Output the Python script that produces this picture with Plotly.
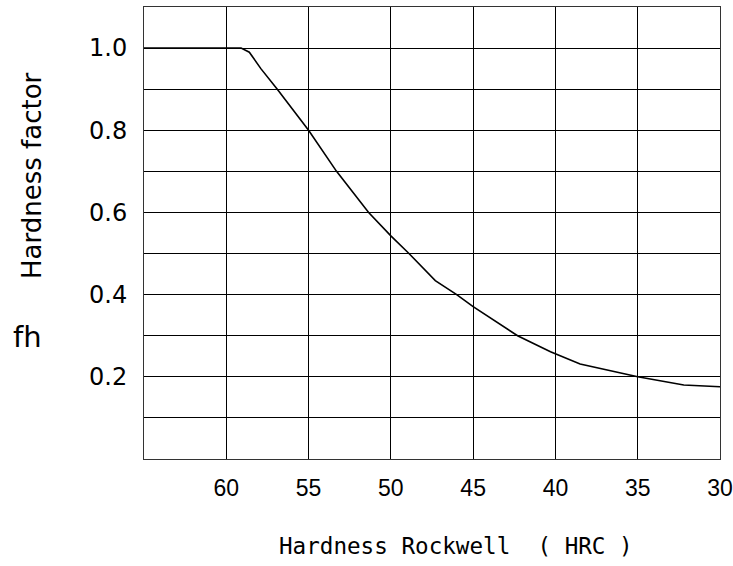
import plotly.graph_objects as go

# Curve (HRC vs hardness factor fh)
hrc = [65.0, 59.1, 58.6, 57.9, 56.9, 55.0, 53.3, 51.35, 50.0, 48.9, 47.3, 46.0,
       45.0, 43.4, 42.3, 40.3, 38.5, 35.0, 32.2, 30.0]
fh = [1.0, 1.0, 0.99, 0.95, 0.90, 0.80, 0.70, 0.60, 0.543, 0.50, 0.434, 0.40,
      0.371, 0.329, 0.30, 0.261, 0.231, 0.20, 0.180, 0.176]

x_ticks = [60, 55, 50, 45, 40, 35, 30]
x_ticktext = ["60", "55", "50", "45", "40", "35", "30"]
y_ticks = [0.2, 0.4, 0.6, 0.8, 1.0]
y_ticktext = ["0.2", "0.4", "0.6", "0.8", "1.0"]
y_minor = [0.1, 0.3, 0.5, 0.7, 0.9]

x_title = "Hardness Rockwell \u00a0( HRC )"
y_title = "Hardness factor"
fh_label = "fh"

fig = go.Figure()
fig.add_trace(go.Scatter(x=hrc, y=fh, mode="lines",
                         line=dict(color="black", width=1.6),
                         showlegend=False, hoverinfo="skip"))

L, R, T, B = 144, 13, 7, 107
W, H = 733, 566
pw, ph = W - L - R, H - T - B

def px(x):
    return (x - L) / pw

def py(y):
    return (H - B - y) / ph

fig.update_layout(
    width=W, height=H, autosize=False,
    margin=dict(l=L, r=R, t=T, b=B, autoexpand=False),
    paper_bgcolor="white", plot_bgcolor="white",
    xaxis=dict(range=[65, 30], tickvals=x_ticks, ticktext=x_ticktext,
               showgrid=True, gridcolor="black", gridwidth=1,
               showline=True, linecolor="#333", linewidth=1, mirror=True,
               zeroline=False, ticks="", ticklabelstandoff=8, automargin=False,
               tickfont=dict(family="Liberation Sans", size=23, color="black")),
    yaxis=dict(range=[0, 1.1], tickvals=y_ticks, ticktext=y_ticktext,
               showgrid=True, gridcolor="black", gridwidth=1,
               minor=dict(tickvals=y_minor, showgrid=True, gridcolor="black",
                          gridwidth=1, ticks=""),
               showline=True, linecolor="#333", linewidth=1, mirror=True,
               zeroline=False, ticks="", ticklabelstandoff=11, automargin=False,
               tickfont=dict(family="DejaVu Sans", size=24, color="black")),
    annotations=[
        dict(text=x_title, xref="paper", yref="paper", x=px(456), y=py(546),
             showarrow=False, xanchor="center", yanchor="middle",
             font=dict(family="DejaVu Sans Mono", size=22.6, color="black")),
        dict(text=y_title, xref="paper", yref="paper", x=px(32), y=py(176),
             showarrow=False, textangle=-90, xanchor="center", yanchor="middle",
             font=dict(family="DejaVu Sans", size=26, color="black")),
        dict(text=fh_label, xref="paper", yref="paper", x=px(27), y=py(337),
             showarrow=False, xanchor="center", yanchor="middle",
             font=dict(family="DejaVu Sans", size=29, color="black")),
    ],
)

fig.write_html("out.html",
               config={"displayModeBar": False},
               post_script="document.body.style.margin='0';")
